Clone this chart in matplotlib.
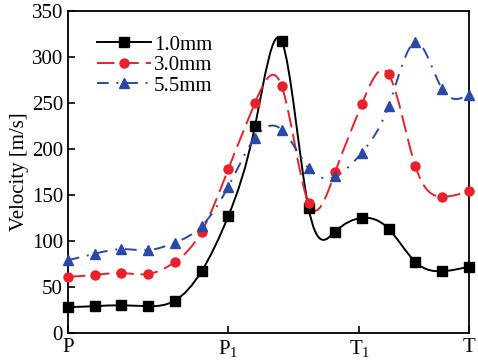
import numpy as np
import matplotlib.pyplot as plt
from matplotlib.path import Path
from matplotlib.patches import PathPatch

plt.rcParams['font.family'] = 'Liberation Serif'
plt.rcParams['mathtext.fontset'] = 'custom'
plt.rcParams['mathtext.rm'] = 'Liberation Serif'
plt.rcParams['mathtext.it'] = 'Liberation Serif'

# positions along the path P -> P1 -> T1 -> T
x = np.arange(16)
v_10 = [28, 29, 30, 29, 35, 67, 127, 225, 317, 136, 110, 125, 113, 77, 67, 72]
v_30 = [61, 63, 65, 64, 77, 110, 178, 250, 268, 141, 175, 249, 281, 181, 148, 154]
v_55 = [79, 86, 91, 90, 98, 116, 159, 212, 221, 179, 170, 196, 247, 316, 265, 259]

xtick_pos = [0, 6, 10.9, 15]
xtick_labels = ['P', r'P$_\mathrm{1}$', r'T$_\mathrm{1}$', 'T']


def spline_path(xs, ys):
    # natural cubic spline, turned into bezier segments
    xs = np.asarray(xs, float)
    ys = np.asarray(ys, float)
    n = len(xs)
    h = np.diff(xs)
    A = np.zeros((n, n))
    b = np.zeros(n)
    A[0, 0] = A[-1, -1] = 1
    for i in range(1, n - 1):
        A[i, i - 1] = h[i - 1]
        A[i, i] = 2 * (h[i - 1] + h[i])
        A[i, i + 1] = h[i]
        b[i] = 6 * ((ys[i + 1] - ys[i]) / h[i] - (ys[i] - ys[i - 1]) / h[i - 1])
    M = np.linalg.solve(A, b)
    slope = np.zeros(n)
    for i in range(n - 1):
        slope[i] = (ys[i + 1] - ys[i]) / h[i] - h[i] * (2 * M[i] + M[i + 1]) / 6
    slope[-1] = (ys[-1] - ys[-2]) / h[-1] + h[-1] * (M[-2] + 2 * M[-1]) / 6
    verts = [(xs[0], ys[0])]
    codes = [Path.MOVETO]
    for i in range(n - 1):
        d = h[i] / 3
        verts += [(xs[i] + d, ys[i] + slope[i] * d),
                  (xs[i + 1] - d, ys[i + 1] - slope[i + 1] * d),
                  (xs[i + 1], ys[i + 1])]
        codes += [Path.CURVE4] * 3
    return Path(verts, codes)


fig, ax = plt.subplots(figsize=(4.78, 3.63), dpi=100)
fig.subplots_adjust(left=0.142, right=0.981, top=0.97, bottom=0.083)

series = [
    (v_10, '1.0mm', 'black', 's', '-'),
    (v_30, '3.0mm', '#e8222a', 'o', (0, (9, 3.5))),
    (v_55, '5.5mm', '#2b48a8', '^', (0, (6, 4, 1, 4))),
]
for vals, lab, col, mk, ls in series:
    ax.add_patch(PathPatch(spline_path(x, vals), fill=False, edgecolor=col,
                           lw=1.4, linestyle=ls, clip_on=False))
    ax.plot(x, vals, linestyle='none', marker=mk, color=col, ms=6.5, clip_on=False, zorder=3)
    ax.plot([], [], color=col, lw=1.4, linestyle=ls, marker=mk, ms=6.5, label=lab)

ax.set_xlim(0, 15)
ax.set_ylim(0, 350)
ax.set_yticks(np.arange(0, 351, 50))
ax.set_xticks(xtick_pos)
ax.set_xticklabels(xtick_labels)
ax.tick_params(direction='in', labelsize=15, length=5, width=1.2, top=False, right=False)
ax.tick_params(axis='x', pad=4)
for s in ax.spines.values():
    s.set_linewidth(1.3)
ax.set_ylabel('Velocity [m/s]', fontsize=15, labelpad=2)

ax.legend(loc='upper left', frameon=False, fontsize=15, handlelength=2.6,
          handletextpad=0.15, labelspacing=0.05, borderaxespad=0.6,
          bbox_to_anchor=(0.02, 0.99))

fig.savefig('out.png', dpi=100)
